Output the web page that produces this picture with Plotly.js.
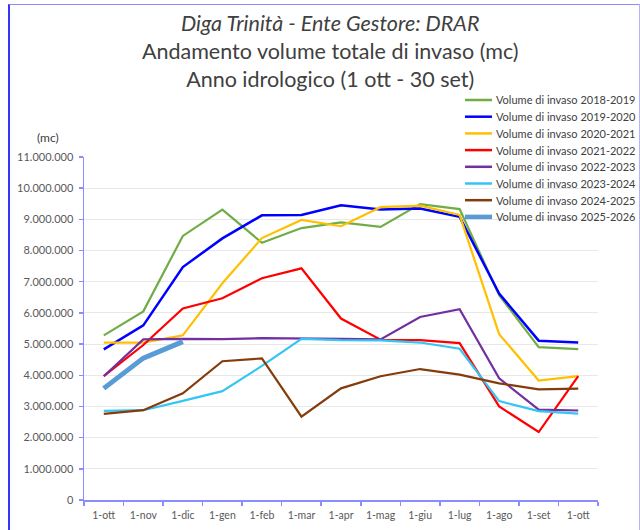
<!DOCTYPE html>
<html>
<head>
<meta charset="utf-8">
<script src="https://cdn.plot.ly/plotly-3.0.1.min.js"></script>
<style>
  html, body { margin: 0; padding: 0; background: #fff; }
  #wrap { position: relative; width: 640px; height: 530px; overflow: hidden; }
  #chart { position: absolute; left: 0; top: 0; width: 640px; height: 530px; }
  #frame { position: absolute; left: 8px; top: 4px; width: 629px; height: 560px;
           border-left: 2px solid #3535ff; border-top: 1px solid #8e8ef0; border-right: 1px solid #b3b3ff;
           pointer-events: none; }
</style>
</head>
<body>
<div id="wrap">
  <div id="chart"></div>
  <div id="frame"></div>
</div>
<script>
// Tick labels (months of the hydrological year)
const months = ['1-ott','1-nov','1-dic','1-gen','1-feb','1-mar','1-apr','1-mag','1-giu','1-lug','1-ago','1-set','1-ott'];

// Series names
const seriesNames = [
  'Volume di invaso 2018-2019',
  'Volume di invaso 2019-2020',
  'Volume di invaso 2020-2021',
  'Volume di invaso 2021-2022',
  'Volume di invaso 2022-2023',
  'Volume di invaso 2023-2024',
  'Volume di invaso 2024-2025',
  'Volume di invaso 2025-2026'
];

// Series values (mc)
const v2018 = [5280000, 6050000, 8470000, 9310000, 8250000, 8720000, 8900000, 8760000, 9490000, 9330000, 6570000, 4900000, 4840000];
const v2019 = [4830000, 5600000, 7470000, 8390000, 9130000, 9140000, 9450000, 9320000, 9350000, 9080000, 6620000, 5110000, 5050000];
const v2020 = [5050000, 5050000, 5280000, 6950000, 8400000, 8980000, 8780000, 9390000, 9440000, 9140000, 5320000, 3830000, 3970000];
const v2021 = [3970000, 4970000, 6140000, 6470000, 7110000, 7430000, 5820000, 5140000, 5130000, 5030000, 3000000, 2180000, 3970000];
const v2022 = [3970000, 5150000, 5170000, 5160000, 5190000, 5190000, 5170000, 5150000, 5870000, 6120000, 3900000, 2900000, 2870000];
const v2023 = [2860000, 2880000, 3180000, 3490000, 4300000, 5170000, 5130000, 5120000, 5050000, 4850000, 3170000, 2850000, 2770000];
const v2024 = [2760000, 2880000, 3420000, 4450000, 4540000, 2670000, 3580000, 3970000, 4200000, 4020000, 3740000, 3550000, 3570000];
const v2025 = [3580000, 4550000, 5080000];

const allValues = [v2018, v2019, v2020, v2021, v2022, v2023, v2024, v2025];
const colors = ['#70AD47', '#0000FF', '#FFC000', '#FF0000', '#7030A0', '#33C6F4', '#843C0C', '#5B9BD5'];
const widths = [2.2, 2.5, 2.2, 2.2, 2.2, 2.2, 2.2, 5];

const xIdx = months.map((m, i) => i);

const traces = allValues.map((vals, k) => ({
  type: 'scatter',
  mode: 'lines',
  name: seriesNames[k],
  x: xIdx.slice(0, vals.length),
  y: vals,
  line: { color: colors[k], width: widths[k] },
  hoverinfo: 'skip'
}));

const boundaries = [];
for (let i = 0; i <= months.length; i++) boundaries.push(i - 0.5);

const axisColor = '#8C8CFF';
const fontFam = 'Lato, "Open Sans", sans-serif';

// plot-area pixel geometry (for placing the legend block in paper units)
const M = { l: 84, r: 42, t: 157, b: 30 };
const PW = 640 - M.l - M.r, PH = 530 - M.t - M.b;
const px = (x) => (x - M.l) / PW;
const py = (y) => (530 - M.b - y) / PH;

const legendShapes = [];
const legendAnnots = [];
seriesNames.forEach((name, k) => {
  const rowY = 100 + k * 16.7;
  legendShapes.push({
    type: 'line', xref: 'paper', yref: 'paper',
    x0: px(465), x1: px(492), y0: py(rowY), y1: py(rowY),
    line: { color: colors[k], width: k === 7 ? 4.5 : 2.5 }
  });
  legendAnnots.push({
    text: name, xref: 'paper', yref: 'paper',
    x: px(494), y: py(rowY), xanchor: 'left', yanchor: 'middle',
    showarrow: false,
    font: { size: 11, color: '#404040', family: fontFam }
  });
});

const layout = {
  width: 640,
  height: 530,
  margin: M,
  paper_bgcolor: '#ffffff',
  plot_bgcolor: '#ffffff',
  separators: ',.',
  font: { family: fontFam, color: '#595959' },
  title: {
    text: '<i>Diga Trinità - Ente Gestore: DRAR</i><br>Andamento volume totale di invaso (mc)<br>Anno idrologico (1 ott - 30 set)',
    font: { size: 21.5, color: '#404040', family: fontFam },
    x: 0.516, xref: 'container', xanchor: 'center',
    y: 0.941, yref: 'container', yanchor: 'top'
  },
  xaxis: {
    range: [-0.5, months.length - 0.5],
    tickmode: 'array',
    tickvals: xIdx,
    ticktext: months,
    ticks: '',
    showgrid: false,
    zeroline: false,
    showline: true,
    linecolor: axisColor,
    linewidth: 1.5,
    ticklabelstandoff: 5,
    tickfont: { size: 10.5, color: '#595959', family: fontFam },
    minor: { tickmode: 'array', tickvals: boundaries, ticks: 'outside', ticklen: 4, tickwidth: 1.5, tickcolor: axisColor, showgrid: false },
    fixedrange: true
  },
  yaxis: {
    range: [0, 11000000],
    tickmode: 'linear',
    tick0: 0,
    dtick: 1000000,
    tickformat: ',.0f',
    showgrid: true,
    gridcolor: '#E8E8E8',
    gridwidth: 1,
    zeroline: false,
    showline: true,
    linecolor: axisColor,
    linewidth: 1.5,
    ticks: 'outside',
    ticklen: 4,
    tickwidth: 1.5,
    tickcolor: axisColor,
    ticklabelstandoff: 3,
    tickfont: { size: 11, color: '#595959', family: fontFam },
    fixedrange: true
  },
  showlegend: false,
  shapes: legendShapes,
  annotations: [{
    text: '(mc)', xref: 'paper', yref: 'paper',
    x: px(48), y: py(137),
    xanchor: 'center', yanchor: 'middle', showarrow: false,
    font: { size: 12, color: '#404040', family: fontFam }
  }].concat(legendAnnots)
};

Plotly.newPlot('chart', traces, layout, { displayModeBar: false, staticPlot: true });
</script>
</body>
</html>
